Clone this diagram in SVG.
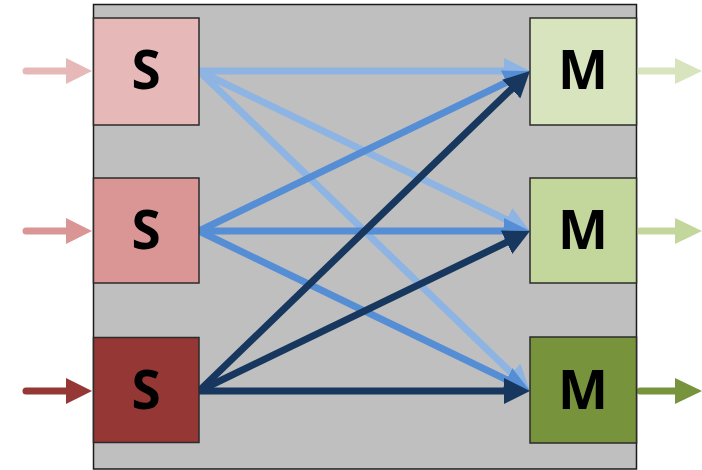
<svg xmlns="http://www.w3.org/2000/svg" width="702" height="470" viewBox="0 0 702 470">
  <style>
    .frame { fill: #BFBFBF; stroke: #1a1a1a; stroke-width: 1.5; }
    .box { stroke: #2b2b2b; stroke-width: 1.5; }
    .lbl { font-family: "Open Sans", "Liberation Sans", sans-serif; font-weight: 700; font-size: 53px; fill: #000; text-anchor: middle; }
    .io { stroke-width: 7; stroke-linecap: round; fill: none; }
    .link { stroke-width: 7; fill: none; }
    .l1 { stroke: #8DB4E2; }
    .l2 { stroke: #558ED5; }
    .l3 { stroke: #17375E; }
  </style>
  <defs>
    <marker id="ah1" markerUnits="userSpaceOnUse" viewBox="0 0 26 26" markerWidth="26" markerHeight="26" refX="6" refY="13" orient="auto">
      <path d="M0,0 L26,13 L0,26 Z" fill="#8DB4E2"/>
    </marker>
    <marker id="ah2" markerUnits="userSpaceOnUse" viewBox="0 0 26 26" markerWidth="26" markerHeight="26" refX="6" refY="13" orient="auto">
      <path d="M0,0 L26,13 L0,26 Z" fill="#558ED5"/>
    </marker>
    <marker id="ah3" markerUnits="userSpaceOnUse" viewBox="0 0 26 26" markerWidth="26" markerHeight="26" refX="6" refY="13" orient="auto">
      <path d="M0,0 L26,13 L0,26 Z" fill="#17375E"/>
    </marker>
  </defs>

  <!-- enclosing panel -->
  <rect class="frame" x="93.5" y="4.5" width="543" height="464.5"/>

  <!-- input arrows -->
  <g id="inputs">
    <line class="io" x1="26" y1="71" x2="70" y2="71" stroke="#E6B9B8"/>
    <polygon points="66,58 92,71 66,84" fill="#E6B9B8"/>
    <line class="io" x1="26" y1="231" x2="70" y2="231" stroke="#D99694"/>
    <polygon points="66,218 92,231 66,244" fill="#D99694"/>
    <line class="io" x1="26" y1="391" x2="70" y2="391" stroke="#953735"/>
    <polygon points="66,378 92,391 66,404" fill="#953735"/>
  </g>

  <!-- output arrows -->
  <g id="outputs">
    <line class="io" x1="640" y1="71" x2="679" y2="71" stroke="#D7E4BD"/>
    <polygon points="675,58 702,71 675,84" fill="#D7E4BD"/>
    <line class="io" x1="640" y1="231" x2="679" y2="231" stroke="#C3D69B"/>
    <polygon points="675,218 702,231 675,244" fill="#C3D69B"/>
    <line class="io" x1="640" y1="391" x2="679" y2="391" stroke="#77933C"/>
    <polygon points="675,378 702,391 675,404" fill="#77933C"/>
  </g>

  <!-- connectors: every sender to every receiver -->
  <g id="connectors">
    <line class="link l1" x1="199" y1="71" x2="510" y2="71" marker-end="url(#ah1)"/>
    <line class="link l1" x1="199" y1="71" x2="511.99" y2="222.30" marker-end="url(#ah1)"/>
    <line class="link l1" x1="199" y1="71" x2="515.62" y2="377.10" marker-end="url(#ah1)"/>
    <line class="link l2" x1="199" y1="231" x2="511.99" y2="79.70" marker-end="url(#ah2)"/>
    <line class="link l2" x1="199" y1="231" x2="510" y2="231" marker-end="url(#ah2)"/>
    <line class="link l2" x1="199" y1="231" x2="511.99" y2="382.30" marker-end="url(#ah2)"/>
    <line class="link l3" x1="199" y1="391" x2="515.62" y2="84.90" marker-end="url(#ah3)"/>
    <line class="link l3" x1="199" y1="391" x2="511.99" y2="239.70" marker-end="url(#ah3)"/>
    <line class="link l3" x1="199" y1="391" x2="510" y2="391" marker-end="url(#ah3)"/>
  </g>

  <!-- senders -->
  <g id="s1">
    <rect class="box" x="93.5" y="18" width="105.5" height="107" fill="#E6B9B8"/>
    <text class="lbl" x="146" y="89">S</text>
  </g>
  <g id="s2">
    <rect class="box" x="93.5" y="178" width="105.5" height="105" fill="#D99694"/>
    <text class="lbl" x="146" y="249">S</text>
  </g>
  <g id="s3">
    <rect class="box" x="93.5" y="337.5" width="105.5" height="105" fill="#953735"/>
    <text class="lbl" x="146" y="409">S</text>
  </g>

  <!-- receivers -->
  <g id="m1">
    <rect class="box" x="530" y="18" width="106.5" height="107" fill="#D7E4BD"/>
    <text class="lbl" x="583" y="89">M</text>
  </g>
  <g id="m2">
    <rect class="box" x="530" y="178" width="106.5" height="105" fill="#C3D69B"/>
    <text class="lbl" x="583" y="249">M</text>
  </g>
  <g id="m3">
    <rect class="box" x="530" y="337" width="106.5" height="106" fill="#77933C"/>
    <text class="lbl" x="583" y="409">M</text>
  </g>
</svg>
